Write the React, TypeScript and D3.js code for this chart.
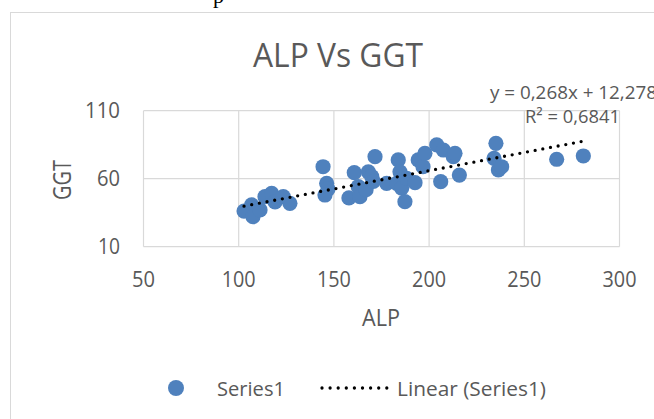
import React from "react";
import * as d3 from "d3";

const alp: number[] = [
  102.8, 106.8, 107.5, 111.2, 113.8, 117.3, 119.1, 123.4, 126.9,
  144.3, 146.2, 146.9, 145.3,
  157.9, 160.7, 162.8, 163.7, 166.9, 168.1, 169.9, 170.7, 171.6,
  177.7, 183.8, 184.7, 183.0, 185.6, 187.3, 188.2, 192.6, 194.3, 196.8, 197.8,
  204.0, 207.5, 212.7, 213.6, 206.1, 215.9,
  235.1, 234.1, 236.4, 238.1,
  267.0, 281.0,
];
const ggt: number[] = [
  36.2, 40.7, 32.1, 37.0, 46.8, 49.3, 42.9, 46.8, 41.9,
  68.8, 56.6, 52.4, 48.0,
  45.9, 64.4, 54.1, 46.8, 51.9, 65.1, 61.5, 58.0, 76.2,
  56.6, 73.8, 65.1, 56.6, 53.0, 43.1, 60.3, 57.1, 73.8, 68.8, 78.7,
  84.8, 81.1, 76.2, 78.7, 57.8, 62.7,
  86.0, 75.0, 66.4, 68.8,
  74.3, 76.7,
];
const xTicks: number[] = [50, 100, 150, 200, 250, 300];
const yTicks: number[] = [10, 60, 110];
const slope = 0.268;
const intercept = 12.278;
const equationLabel = "y = 0,268x + 12,278";
const r2Label = "R² = 0,6841";
const titleText = "ALP Vs GGT";
const xTitle = "ALP";
const yTitle = "GGT";
const seriesName = "Series1";
const trendName = "Linear (Series1)";

const W = 654;
const H = 419;
const FONT = "'Open Sans', 'Liberation Sans', sans-serif";
const TXT = "#595959";
const GRID = "#d9d9d9";
const BLUE = "#4f81bd";

export default function App() {
  const x = d3.scaleLinear().domain([50, 300]).range([143.5, 619.5]);
  const y = d3.scaleLinear().domain([10, 110]).range([246.7, 110.7]);
  const pts = alp.map((a, i) => ({ a, g: ggt[i] }));
  const [xmin, xmax] = d3.extent(alp) as [number, number];
  const trend = d3.line<number>()
    .x((v) => x(v))
    .y((v) => y(slope * v + intercept))([xmin, xmax]) as string;

  const xLabelW: Record<string, number> = { "50": 23, "100": 34, "150": 34, "200": 34, "250": 34, "300": 34 };
  const yLabelW: Record<string, number> = { "10": 22, "60": 23, "110": 35 };

  return (
    <svg width={W} height={H} style={{ position: "absolute", left: 0, top: 0, background: "#fff" }}>
      <rect x={0} y={0} width={W} height={H} fill="#fff" />
      <text x={213} y={3} fontFamily="'Liberation Serif', serif" fontSize={22} fill="#000">p</text>
      <rect x={10.5} y={12.5} width={700} height={450} fill="#fff" stroke={GRID} strokeWidth={1} />

      {/* title */}
      <text x={338} y={67} textAnchor="middle" fontFamily={FONT} fontSize={32} fill={TXT}
        textLength={170} lengthAdjust="spacingAndGlyphs">{titleText}</text>

      {/* gridlines */}
      {xTicks.map((t) => (
        <line key={"gx" + t} x1={x(t)} x2={x(t)} y1={y(110)} y2={y(10)} stroke={GRID} strokeWidth={1.2} />
      ))}
      {yTicks.map((t) => (
        <line key={"gy" + t} x1={x(50)} x2={x(300)} y1={y(t)} y2={y(t)} stroke={GRID} strokeWidth={1.2} />
      ))}

      {/* tick labels */}
      {xTicks.map((t) => (
        <text key={"tx" + t} x={x(t)} y={287} textAnchor="middle" fontFamily={FONT} fontSize={21.5} fill={TXT}
          textLength={xLabelW[String(t)]} lengthAdjust="spacingAndGlyphs">{t}</text>
      ))}
      {yTicks.map((t) => (
        <text key={"ty" + t} x={120} y={y(t) + 7.5} textAnchor="end" fontFamily={FONT} fontSize={21} fill={TXT}
          textLength={yLabelW[String(t)]} lengthAdjust="spacingAndGlyphs">{t}</text>
      ))}

      {/* axis titles */}
      <text x={381} y={326} textAnchor="middle" fontFamily={FONT} fontSize={24.5} fill={TXT}
        textLength={38} lengthAdjust="spacingAndGlyphs">{xTitle}</text>
      <text transform={`translate(71,180) rotate(-90)`} textAnchor="middle" fontFamily={FONT} fontSize={25} fill={TXT}
        textLength={40} lengthAdjust="spacingAndGlyphs">{yTitle}</text>

      {/* points */}
      {pts.map((p, i) => (
        <circle key={"p" + i} cx={x(p.a)} cy={y(p.g)} r={7.6} fill={BLUE} />
      ))}

      {/* trendline */}
      <path d={trend} fill="none" stroke="#000" strokeWidth={3.3} strokeLinecap="round" strokeDasharray="0 7.8" />

      {/* trendline label */}
      <text x={490} y={99} fontFamily={FONT} fontSize={18.5} fill={TXT}
        textLength={167} lengthAdjust="spacingAndGlyphs">{equationLabel}</text>
      <text x={525} y={123} fontFamily={FONT} fontSize={18.5} fill={TXT}
        textLength={95} lengthAdjust="spacingAndGlyphs">{r2Label}</text>

      {/* legend */}
      <circle cx={176} cy={388} r={8} fill={BLUE} />
      <text x={217} y={396} fontFamily={FONT} fontSize={20} fill={TXT}
        textLength={68} lengthAdjust="spacingAndGlyphs">{seriesName}</text>
      <line x1={322} x2={387} y1={388} y2={388} stroke="#000" strokeWidth={3.3} strokeLinecap="round" strokeDasharray="0 8.1" />
      <text x={397} y={396} fontFamily={FONT} fontSize={20} fill={TXT}
        textLength={149} lengthAdjust="spacingAndGlyphs">{trendName}</text>
    </svg>
  );
}
